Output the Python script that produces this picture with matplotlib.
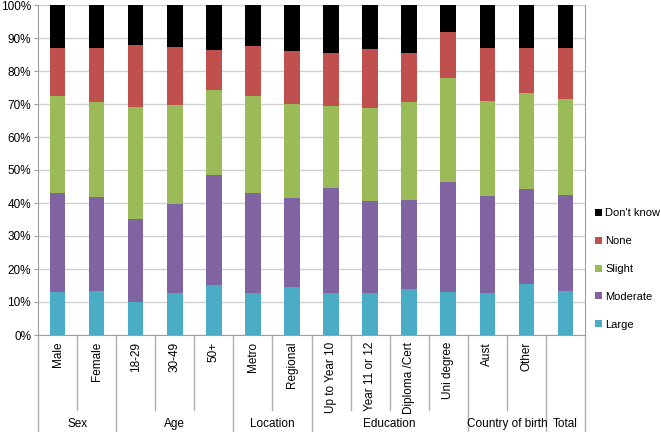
import numpy as np
import matplotlib
matplotlib.use('Agg')
from matplotlib import pyplot as plt
import matplotlib.transforms as mtransforms

plt.rcParams['font.family'] = ['Liberation Sans', 'DejaVu Sans']

categories = ['Male', 'Female', '18-29', '30-49', '50+', 'Metro', 'Regional',
              'Up to Year 10', 'Year 11 or 12', 'Diploma /Cert', 'Uni degree',
              'Aust', 'Other', '']
groups = ['Sex', 'Age', 'Location', 'Education', 'Country of birth', 'Total']
group_sizes = [2, 3, 2, 4, 2, 1]

# cumulative tops (%)
large_top = [12.9, 13.4, 10.1, 12.6, 15.2, 12.6, 14.4, 12.7, 12.6, 13.8, 12.9, 12.6, 15.4, 13.2]
moderate_top = [43.1, 41.9, 35.3, 39.7, 48.4, 43.0, 41.6, 44.4, 40.5, 40.9, 46.5, 42.1, 44.1, 42.5]
slight_top = [72.4, 70.5, 69.0, 69.8, 74.1, 72.3, 69.9, 69.3, 68.7, 70.5, 77.9, 70.9, 73.4, 71.5]
none_top = [87.0, 87.0, 87.9, 87.4, 86.3, 87.7, 86.1, 85.6, 86.6, 85.6, 91.7, 87.0, 86.9, 87.0]

large = np.array(large_top)
moderate = np.array(moderate_top) - large
slight = np.array(slight_top) - np.array(moderate_top)
none = np.array(none_top) - np.array(slight_top)
dont_know = 100 - np.array(none_top)

series = [('Large', large, '#4BACC6'),
          ('Moderate', moderate, '#8064A2'),
          ('Slight', slight, '#9BBB59'),
          ('None', none, '#C0504D'),
          ("Don't know", dont_know, '#000000')]

W, H = 661, 432
fig = plt.figure(figsize=(W / 100, H / 100), dpi=100)
ax = fig.add_axes([38 / W, (H - 335) / H, (585 - 38) / W, 330 / H])

x = np.arange(len(categories))
bottom = np.zeros(len(categories))
handles = []
for name, vals, col in series:
    b = ax.bar(x, vals, 0.4, bottom=bottom, color=col, label=name, zorder=3)
    handles.append(b)
    bottom += vals

ax.set_xlim(-0.5, len(categories) - 0.5)
ax.set_ylim(0, 100)
ax.set_yticks(np.arange(0, 101, 10))
ax.set_yticklabels([f'{v}%' for v in range(0, 101, 10)], fontsize=8.5)
ax.yaxis.grid(True, color='#d0d0d0', linewidth=1, zorder=0)
ax.tick_params(axis='y', length=3, color='#a0a0a0', pad=2)
for s in ['left', 'bottom', 'right']:
    ax.spines[s].set_color('#a0a0a0')
ax.spines['top'].set_visible(False)

ax.set_xticks(x)
ax.set_xticklabels(categories, rotation=90, fontsize=8.5, va='top')
ax.tick_params(axis='x', length=0, pad=5)

# category table lines below the axis
trans = mtransforms.blended_transform_factory(ax.transData, fig.transFigure)
ax_bottom = (H - 335) / H
group_edges = np.concatenate([[0], np.cumsum(group_sizes)])
for i in range(len(categories) + 1):
    xb = i - 0.5
    if i in group_edges:
        y_end = 0
    else:
        y_end = (H - 410) / H
    ax.plot([xb, xb], [ax_bottom, y_end], transform=trans, color='#b0b0b0',
            linewidth=1, clip_on=False)

for g, start, size in zip(groups, group_edges[:-1], group_sizes):
    ax.text(start - 0.5 + size / 2, (H - 424) / H, g, transform=trans,
            ha='center', va='center', fontsize=8.5)

leg = ax.legend(handles[::-1], [s[0] for s in series][::-1],
                loc='center left', bbox_to_anchor=(595 / W, (H - 269) / H),
                bbox_transform=fig.transFigure, frameon=False, fontsize=8,
                handlelength=0.6, handleheight=0.6, handletextpad=0.3,
                labelspacing=1.6, borderpad=0, borderaxespad=0)

fig.savefig('out.png', dpi=100)
